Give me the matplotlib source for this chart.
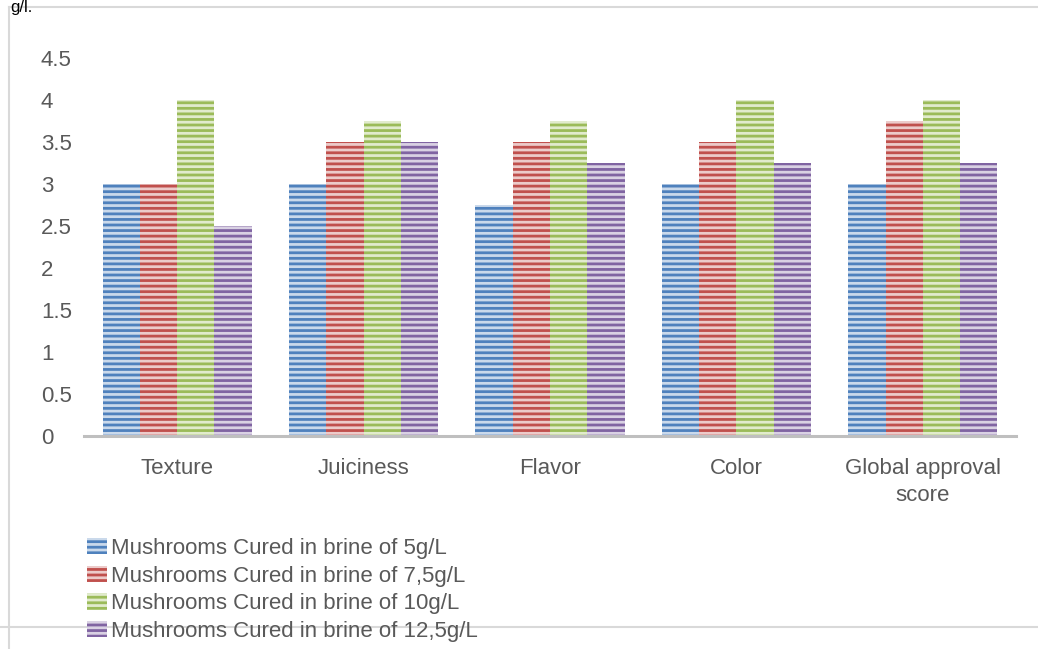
import numpy as np
from matplotlib import pyplot as plt, rcParams
from matplotlib.colors import to_rgb
from matplotlib.lines import Line2D

rcParams["font.family"] = ["Liberation Sans", "DejaVu Sans"]
rcParams["font.size"] = 16
rcParams["hatch.linewidth"] = 2.0

categories = ["Texture", "Juiciness", "Flavor", "Color", "Global approval\nscore"]
series = [
    "Mushrooms Cured in brine of 5g/L",
    "Mushrooms Cured in brine of 7,5g/L",
    "Mushrooms Cured in brine of 10g/L",
    "Mushrooms Cured in brine of 12,5g/L",
]
brine_5 = [3, 3, 2.75, 3, 3]
brine_75 = [3, 3.5, 3.5, 3.5, 3.75]
brine_10 = [4, 3.75, 3.75, 4, 4]
brine_125 = [2.5, 3.5, 3.25, 3.25, 3.25]
yticks = [0, 0.5, 1, 1.5, 2, 2.5, 3, 3.5, 4, 4.5]

colors = ["#4F81BD", "#C0504D", "#9BBB59", "#8064A2"]


def light(c, f=0.3):
    r = np.array(to_rgb(c))
    return tuple(1 - f * (1 - r))


# %%
W, H = 1038, 649
fig = plt.figure(figsize=(W / 100, H / 100), dpi=100)
ax = fig.add_axes([84 / W, 1 - 436 / H, (1016 - 84) / W, (436 - 58) / H])

x = np.arange(len(categories))
bw = 0.2
for i, (vals, c, lab) in enumerate(
    zip([brine_5, brine_75, brine_10, brine_125], colors, series)
):
    ax.bar(
        x + (i - 1.5) * bw,
        vals,
        width=bw,
        facecolor=light(c),
        edgecolor=c,
        hatch="---",
        linewidth=0,
        label=lab,
    )

ax.set_xlim(-0.5, len(categories) - 0.5)
ax.set_ylim(0, 4.5)
ax.set_xticks(x)
ax.set_xticklabels(categories, color="#595959", linespacing=1.35)
ax.set_yticks(yticks)
ax.set_yticklabels([f"{t:g}" for t in yticks], color="#595959", ha="left")
ax.tick_params(axis="y", length=0, pad=31)
ax.tick_params(axis="x", length=0, pad=16)
for s in ["top", "right", "left"]:
    ax.spines[s].set_visible(False)
ax.spines["bottom"].set_color("#BFBFBF")
ax.spines["bottom"].set_linewidth(2.2)

ax.legend(
    loc="upper left",
    bbox_to_anchor=(87 / W, 1 - 538 / H),
    bbox_transform=fig.transFigure,
    frameon=False,
    handlelength=0.9,
    handleheight=0.75,
    handletextpad=0.2,
    labelspacing=0.3,
    borderpad=0,
    borderaxespad=0,
    labelcolor="#595959",
)

# chart frame lines
fig.add_artist(Line2D([9 / W, 1], [1 - 7 / H] * 2, color="#D9D9D9", lw=1.5))
fig.add_artist(Line2D([9 / W] * 2, [0, 1 - 7 / H], color="#D9D9D9", lw=1.5))
fig.add_artist(Line2D([0, 1], [1 - 627 / H] * 2, color="#D9D9D9", lw=1.5, zorder=0))

fig.text(10 / W, 1, "g/l.", color="black", va="top", ha="left", fontsize=12)

fig.savefig("out.png", dpi=100)
